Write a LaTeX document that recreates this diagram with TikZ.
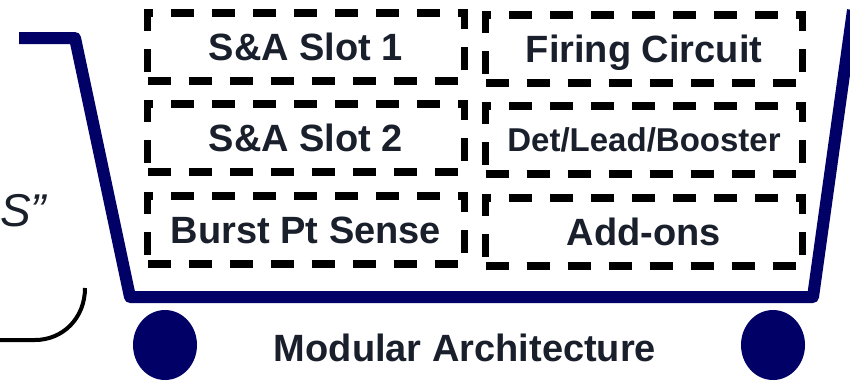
\documentclass[tikz,border=0pt]{standalone}
\usepackage{fontspec}
\setsansfont{Liberation Sans}
\usepackage{tikz}

\definecolor{cartblue}{RGB}{0,0,102}
\definecolor{ink}{RGB}{26,31,44}

\begin{document}
\begin{tikzpicture}[x=1pt, y=-1pt,
    slot/.style={draw=black, line width=7.5pt, dash pattern=on 23pt off 18pt,
      minimum width=317pt, minimum height=68pt, inner sep=0pt,
      text=ink, font=\sffamily\bfseries\fontsize{38}{42}\selectfont,
      text height=27pt, text depth=0pt},
    cart/.style={line width=12pt, cartblue, line join=round}]
    \useasboundingbox (0,0) rectangle (850,381);

    % cart body and wheels
    \draw[cart] (19,38) -- (75,38) -- (130,297) -- (813,297) -- (853,10);
    \fill[cartblue] (165,345) ellipse (32 and 35);
    \fill[cartblue] (773,345) ellipse (32 and 35);

    % left hand bracket, cut by the page edge
    \draw[line width=4pt, black] (-5,340) -- (35,340) .. controls (63,340) and (85,318) .. (85,288);
    \node[anchor=west, inner sep=0pt, text=ink, font=\sffamily\itshape\fontsize{46}{50}\selectfont] (quote) at (0,211) {S"};

    % module slots
    \foreach \name/\txt/\y in {slot1/S\&A Slot 1/47, slot2/S\&A Slot 2/138, burst/Burst Pt Sense/230} {
      \node[slot] (\name) at (306,\y) {\txt};
    }
    \foreach \name/\txt/\y in {firing/Firing Circuit/49, addons/Add-ons/232} {
      \node[slot] (\name) at (644,\y) {\txt};
    }
    \node[slot, font=\sffamily\bfseries\fontsize{33}{36}\selectfont, text height=23pt] (det) at (644,140) {Det/Lead/Booster};

    \node[text=ink, font=\sffamily\bfseries\fontsize{38}{42}\selectfont, text height=27pt, text depth=0pt] (title) at (465,348) {Modular Architecture};
\end{tikzpicture}
\end{document}
